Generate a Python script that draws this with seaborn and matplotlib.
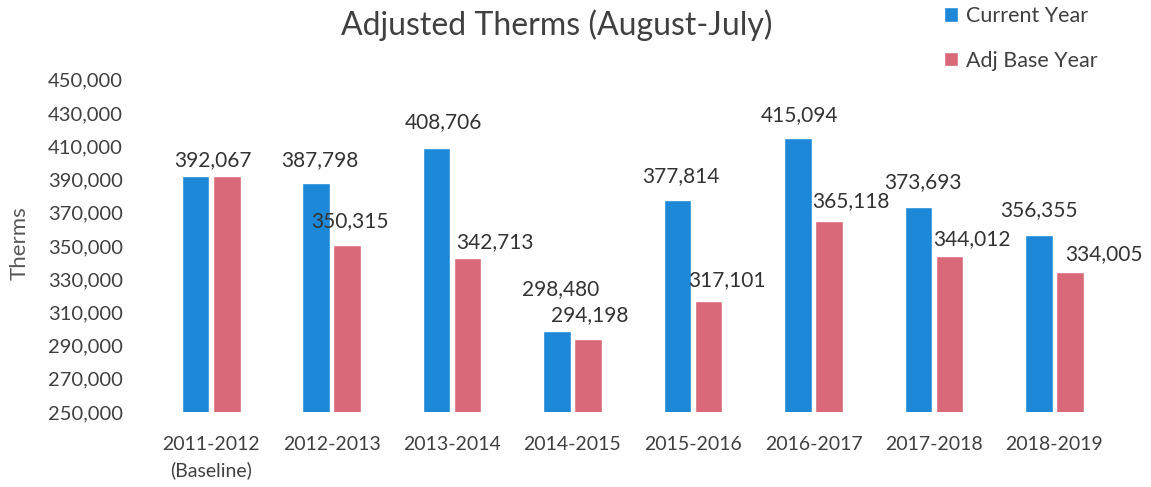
import matplotlib
matplotlib.use("Agg")
import matplotlib.pyplot as plt
import seaborn as sns
import pandas as pd
from matplotlib.ticker import FuncFormatter

# data
years = ['2011-2012\n(Baseline)', '2012-2013', '2013-2014', '2014-2015',
         '2015-2016', '2016-2017', '2017-2018', '2018-2019']
current_year = [392067, 387798, 408706, 298480, 377814, 415094, 373693, 356355]
adj_base_year = [392067, 350315, 342713, 294198, 317101, 365118, 344012, 334005]
series_names = ['Current Year', 'Adj Base Year']

# label placement (pixels from bar centre / bar top), None = no label
current_offsets = [(17, 16), (4, 23), (7, 26), (4, 42), (3, 24), (2, 23), (4, 24), (0, 25)]
base_offsets = [None, (3, 24), (27, 16), (2, 24), (18, 20), (22, 20), (22, 17), (34, 18)]

BLUE = '#1E88D8'
PINK = '#D96878'
TEXT = '#404040'

df = pd.DataFrame({
    'Year': years * 2,
    'Therms': current_year + adj_base_year,
    'Series': [series_names[0]] * len(years) + [series_names[1]] * len(years),
})

sns.set_theme(style='white')
plt.rcParams['font.family'] = ['Lato', 'DejaVu Sans']

fig = plt.figure(figsize=(11.51, 4.87), dpi=100)
ax = fig.add_axes([0.131, 0.154, 0.8375, 0.682])

sns.barplot(data=df, x='Year', y='Therms', hue='Series', palette=[BLUE, PINK],
            width=0.515, gap=0.1, saturation=1, ax=ax)

ax.set_ylim(250000, 450000)
ax.set_yticks(range(250000, 450001, 20000))
ax.yaxis.set_major_formatter(FuncFormatter(lambda v, p: f'{int(v):,}'))
ax.set_xlim(-0.5, len(years) - 0.5)
sns.despine(ax=ax, left=True, bottom=True)
ax.tick_params(axis='y', length=0, pad=20, labelsize=14.5, labelcolor=TEXT)
ax.tick_params(axis='x', length=0, pad=17, labelsize=14, labelcolor=TEXT)
for lbl in ax.get_xticklabels():
    lbl.set_linespacing(1.6)
ax.set_xlabel('')
ax.set_ylabel('')

# value labels
for container, offsets in zip(ax.containers, [current_offsets, base_offsets]):
    for patch, off in zip(container.patches, offsets):
        if off is None:
            continue
        xc = patch.get_x() + patch.get_width() / 2
        top = patch.get_y() + patch.get_height()
        ax.annotate(f'{int(round(top)):,}', (xc, top), xytext=off,
                    textcoords='offset pixels', ha='center', va='center',
                    fontsize=15, color='#333333', annotation_clip=False)

fig.text(20 / 1151, 0.50, 'Therms', rotation=90, ha='center', va='center',
         fontsize=16, color='#595959')
fig.text(557 / 1151, 1 - 25 / 487, 'Adjusted Therms (August-July)',
         ha='center', va='center', fontsize=23, color=TEXT)

handles, labels = ax.get_legend_handles_labels()
ax.legend(handles, labels, loc='upper left', bbox_to_anchor=(944 / 1151, 1 - 6 / 487),
          bbox_transform=fig.transFigure, frameon=False, handlelength=0.65,
          handleheight=0.65, handletextpad=0.35, labelspacing=1.15, fontsize=15.5,
          labelcolor=TEXT, borderaxespad=0, borderpad=0)

fig.savefig('out.png', dpi=100, facecolor='white')
